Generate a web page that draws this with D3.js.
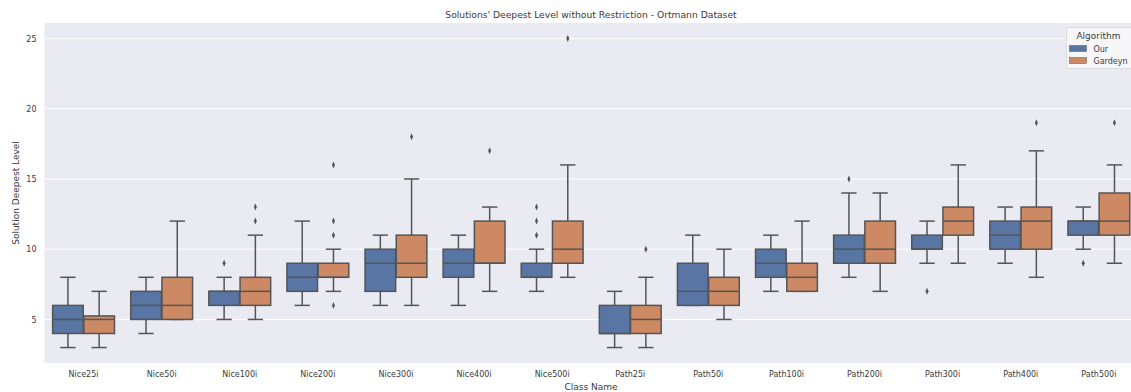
<!DOCTYPE html>
<html>
<head>
<meta charset="utf-8">
<script src="https://cdn.jsdelivr.net/npm/d3@7"></script>
<style>
  body { margin: 0; background: #fff; }
  svg { display: block; font-family: "DejaVu Sans", sans-serif; }
</style>
</head>
<body>
<svg id="chart" width="1131" height="392"></svg>
<script>
// categories and series
const categories = ["Nice25i", "Nice50i", "Nice100i", "Nice200i", "Nice300i", "Nice400i", "Nice500i",
                    "Path25i", "Path50i", "Path100i", "Path200i", "Path300i", "Path400i", "Path500i"];
const series = ["Our", "Gardeyn"];
const yTicks = [5, 10, 15, 20, 25];

// box stats for "Our"
const ourQ1  = [4, 5, 6, 7, 7, 8, 8, 4, 6, 8, 9, 10, 10, 11];
const ourMed = [5, 6, 7, 8, 9, 9, 8, 4, 7, 9, 10, 10, 11, 12];
const ourQ3  = [6, 7, 7, 9, 10, 10, 9, 6, 9, 10, 11, 11, 12, 12];
const ourLo  = [3, 4, 5, 6, 6, 6, 7, 3, 6, 7, 8, 9, 9, 10];
const ourHi  = [8, 8, 8, 12, 11, 11, 10, 7, 11, 11, 14, 12, 13, 13];
const ourOut = [[], [], [9], [], [], [], [11, 12, 13], [], [], [], [15], [7], [], [9]];

// box stats for "Gardeyn"
const garQ1  = [4, 5, 6, 8, 8, 9, 9, 4, 6, 7, 9, 11, 10, 11];
const garMed = [5, 6, 7, 8, 9, 9, 10, 5, 7, 8, 10, 12, 12, 12];
const garQ3  = [5.25, 8, 8, 9, 11, 12, 12, 6, 8, 9, 12, 13, 13, 14];
const garLo  = [3, 5, 5, 7, 6, 7, 8, 3, 5, 7, 7, 9, 8, 9];
const garHi  = [7, 12, 11, 10, 15, 13, 16, 8, 10, 12, 14, 16, 17, 16];
const garOut = [[], [], [12, 13], [6, 11, 12, 16], [18], [17], [25], [10], [], [], [], [], [19], [19]];

const colors = ["#5875a4", "#cc8963"];
const lineColor = "#555555";
const textColor = "#3a3a3a";

// build the table
const stats = [];
categories.forEach((c, i) => {
    stats.push({cat: c, s: series[0], q1: ourQ1[i], med: ourMed[i], q3: ourQ3[i], lo: ourLo[i], hi: ourHi[i], out: ourOut[i]});
    stats.push({cat: c, s: series[1], q1: garQ1[i], med: garMed[i], q3: garQ3[i], lo: garLo[i], hi: garHi[i], out: garOut[i]});
});

const svg = d3.select("#chart");
const plotLeft = 44.5, plotTop = 23, plotBottom = 363;
const plotRight = plotLeft + 78.1 * categories.length; // axis runs past the picture edge

const x = d3.scaleBand().domain(categories).range([plotLeft, plotRight]).padding(0);
const hue = d3.scaleBand().domain(series).range([0.1, 0.9]).padding(0);
const y = d3.scaleLinear().domain([1.9, 26.1]).range([plotBottom, plotTop]);

// background
svg.append("rect")
    .attr("x", plotLeft).attr("y", plotTop)
    .attr("width", 1131 - plotLeft).attr("height", plotBottom - plotTop)
    .attr("fill", "#eaeaf2");

// grid
svg.append("g").selectAll("line")
    .data(yTicks)
    .join("line")
    .attr("x1", plotLeft).attr("x2", 1131)
    .attr("y1", d => y(d)).attr("y2", d => y(d))
    .attr("stroke", "#fff").attr("stroke-width", 1);

// y axis
const yAxis = svg.append("g")
    .attr("transform", `translate(${plotLeft},0)`)
    .call(d3.axisLeft(y).tickValues(yTicks).tickSize(0).tickPadding(8));
yAxis.select(".domain").remove();
yAxis.selectAll("text").attr("font-size", 8).attr("fill", textColor).attr("font-family", "DejaVu Sans");

// x axis
const xAxis = svg.append("g")
    .attr("transform", `translate(0,${plotBottom})`)
    .call(d3.axisBottom(x).tickSize(0).tickPadding(8));
xAxis.select(".domain").remove();
xAxis.selectAll("text").attr("font-size", 8).attr("fill", textColor).attr("font-family", "DejaVu Sans");

// boxes
const bw = x.bandwidth() * hue.bandwidth() * 0.98;
const cx = d => x(d.cat) + x.bandwidth() * (hue(d.s) + hue.bandwidth() / 2);

const g = svg.append("g").selectAll("g")
    .data(stats)
    .join("g");

// whiskers
g.append("line")
    .attr("x1", cx).attr("x2", cx)
    .attr("y1", d => y(d.q3)).attr("y2", d => y(d.hi))
    .attr("stroke", lineColor).attr("stroke-width", 1.5);
g.append("line")
    .attr("x1", cx).attr("x2", cx)
    .attr("y1", d => y(d.q1)).attr("y2", d => y(d.lo))
    .attr("stroke", lineColor).attr("stroke-width", 1.5);
// caps
g.append("line")
    .attr("x1", d => cx(d) - bw / 4).attr("x2", d => cx(d) + bw / 4)
    .attr("y1", d => y(d.hi)).attr("y2", d => y(d.hi))
    .attr("stroke", lineColor).attr("stroke-width", 1.5);
g.append("line")
    .attr("x1", d => cx(d) - bw / 4).attr("x2", d => cx(d) + bw / 4)
    .attr("y1", d => y(d.lo)).attr("y2", d => y(d.lo))
    .attr("stroke", lineColor).attr("stroke-width", 1.5);
// box
g.append("rect")
    .attr("x", d => cx(d) - bw / 2)
    .attr("width", bw)
    .attr("y", d => y(d.q3))
    .attr("height", d => y(d.q1) - y(d.q3))
    .attr("fill", d => colors[series.indexOf(d.s)])
    .attr("stroke", lineColor).attr("stroke-width", 1.5);
// median
g.append("line")
    .attr("x1", d => cx(d) - bw / 2).attr("x2", d => cx(d) + bw / 2)
    .attr("y1", d => y(d.med)).attr("y2", d => y(d.med))
    .attr("stroke", lineColor).attr("stroke-width", 1.5);
// outliers
const diamond = d3.symbol().type(d3.symbolDiamond).size(14);
g.selectAll("path.out")
    .data(d => d.out.map(v => ({v: v, d: d})))
    .join("path")
    .attr("class", "out")
    .attr("d", diamond)
    .attr("transform", o => `translate(${cx(o.d)},${y(o.v)}) scale(0.75,1)`)
    .attr("fill", lineColor);

// title and axis labels
svg.append("text")
    .attr("x", 591).attr("y", 18)
    .attr("text-anchor", "middle")
    .attr("font-size", 9.2).attr("fill", textColor)
    .text("Solutions' Deepest Level without Restriction - Ortmann Dataset");

svg.append("text")
    .attr("x", 591).attr("y", 390)
    .attr("text-anchor", "middle")
    .attr("font-size", 9).attr("fill", textColor)
    .text("Class Name");

svg.append("text")
    .attr("transform", `translate(19,${(plotTop + plotBottom) / 2}) rotate(-90)`)
    .attr("text-anchor", "middle")
    .attr("font-size", 9).attr("fill", textColor)
    .text("Solution Deepest Level");

// legend
const lg = svg.append("g").attr("transform", "translate(1066.5,27.5)");
lg.append("rect")
    .attr("width", 80).attr("height", 41).attr("rx", 2)
    .attr("fill", "#f7f7fa").attr("stroke", "#d6d6d6").attr("stroke-width", 0.8);
lg.append("text")
    .attr("x", 32).attr("y", 11)
    .attr("text-anchor", "middle")
    .attr("font-size", 9).attr("fill", textColor)
    .text("Algorithm");
series.forEach((s, i) => {
    lg.append("rect")
        .attr("x", 3).attr("y", 18 + i * 12)
        .attr("width", 17).attr("height", 6)
        .attr("fill", colors[i]).attr("stroke", lineColor).attr("stroke-width", 0.5);
    lg.append("text")
        .attr("x", 27).attr("y", 24 + i * 12)
        .attr("font-size", 8).attr("fill", textColor)
        .text(s);
});
</script>
</body>
</html>
